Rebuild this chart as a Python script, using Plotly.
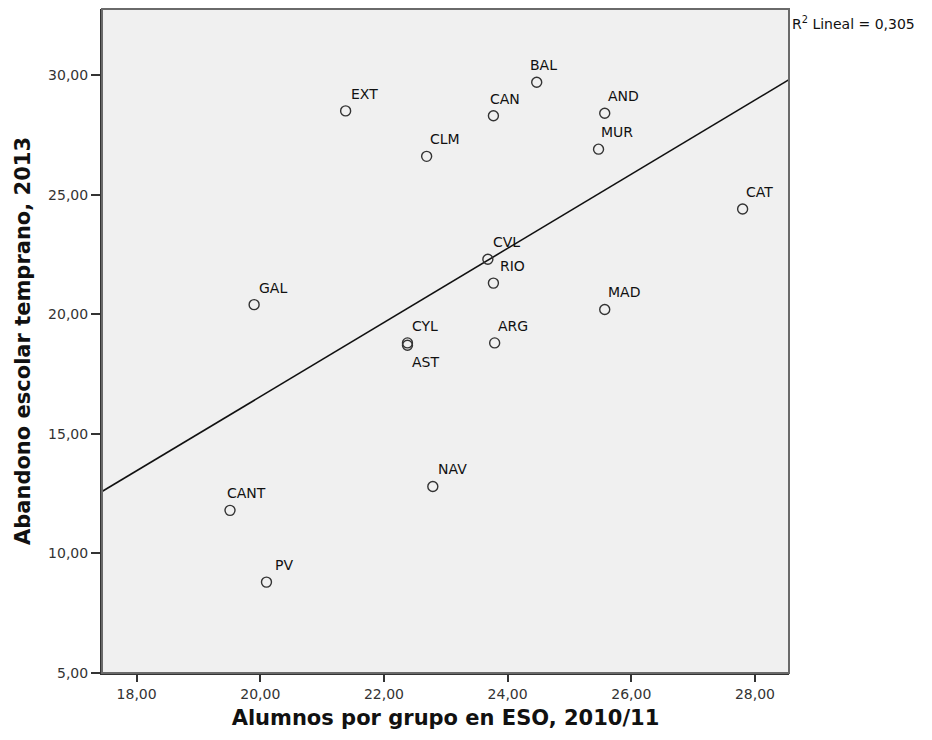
import numpy as np
import plotly.graph_objects as go

# Data
regions = ["EXT", "CLM", "CAN", "BAL", "AND", "MUR", "CAT", "CVL", "RIO",
           "MAD", "GAL", "CYL", "AST", "ARG", "NAV", "CANT", "PV"]
alumnos = [21.38, 22.69, 23.77, 24.47, 25.57, 25.47, 27.80, 23.68, 23.77,
           25.57, 19.90, 22.38, 22.38, 23.79, 22.79, 19.51, 20.10]
abandono = [28.5, 26.6, 28.3, 29.7, 28.4, 26.9, 24.4, 22.3, 21.3,
            20.2, 20.4, 18.8, 18.7, 18.8, 12.8, 11.8, 8.8]
r2_text_value = "0,305"

x_ticks = [18, 20, 22, 24, 26, 28]
y_ticks = [5, 10, 15, 20, 25, 30]

# label offsets (style)
label_dx = {"CAN": -5, "BAL": -9, "CANT": -5, "PV": 7, "RIO": 5, "ARG": 1,
            "CLM": 1, "AND": 1, "MUR": 0, "CAT": 1, "MAD": 1}
label_dy = {"AST": -17}

xr = [17.44, 28.55]
yr = [5, 32.76]

fig = go.Figure()

# regression line
slope, intercept = np.polyfit(alumnos, abandono, 1)
lx = np.array(xr)
fig.add_trace(go.Scatter(x=lx, y=slope * lx + intercept, mode="lines",
                         line=dict(color="#111111", width=1.6),
                         hoverinfo="skip", showlegend=False))

fig.add_trace(go.Scatter(
    x=alumnos, y=abandono, mode="markers",
    marker=dict(symbol="circle-open", size=10, color="#333333",
                line=dict(width=1.4, color="#333333")),
    showlegend=False))

font_main = "DejaVu Sans"
anns = []
for r, xv, yv in zip(regions, alumnos, abandono):
    anns.append(dict(x=xv, y=yv, xref="x", yref="y", text=r, showarrow=False,
                     xanchor="left", yanchor="middle",
                     xshift=label_dx.get(r, 3), yshift=label_dy.get(r, 17),
                     font=dict(family=font_main, size=14, color="#111111")))

anns.append(dict(x=1, y=(673 - 23) / 664, xref="paper", yref="paper",
                 text="R<sup>2</sup> Lineal = " + r2_text_value, showarrow=False,
                 xanchor="left", yanchor="middle", xshift=1,
                 font=dict(family=font_main, size=14, color="#111111")))

fig.update_layout(
    width=932, height=740,
    margin=dict(l=102, r=143, t=9, b=67),
    paper_bgcolor="white", plot_bgcolor="#F0F0F0",
    annotations=anns,
    shapes=[dict(type="rect", xref="paper", yref="paper", x0=0, y0=0, x1=1, y1=1,
                 line=dict(color="#6a6a6a", width=2), layer="above")],
    xaxis=dict(range=xr, tickvals=x_ticks,
               ticktext=[f"{v:.2f}".replace(".", ",") for v in x_ticks],
               showgrid=False, zeroline=False, showline=True, linecolor="#333333",
               linewidth=2, ticks="outside", ticklen=7, tickcolor="#333333",
               tickwidth=1.5,
               tickfont=dict(family=font_main, size=14, color="#333333"),
               title=dict(text="<b>Alumnos por grupo en ESO, 2010/11</b>",
                          font=dict(family=font_main, size=21, color="#111111"),
                          standoff=10)),
    yaxis=dict(range=yr, tickvals=y_ticks,
               ticktext=[f"{v:.2f}".replace(".", ",") for v in y_ticks],
               showgrid=False, zeroline=False, showline=True, linecolor="#333333",
               linewidth=2, ticks="outside", ticklen=9, tickcolor="#333333",
               tickwidth=1.5,
               tickfont=dict(family=font_main, size=14, color="#333333"),
               title=dict(text="<b>Abandono escolar temprano, 2013</b>",
                          font=dict(family=font_main, size=21, color="#111111"),
                          standoff=12)),
)

fig.write_html("out.html")
